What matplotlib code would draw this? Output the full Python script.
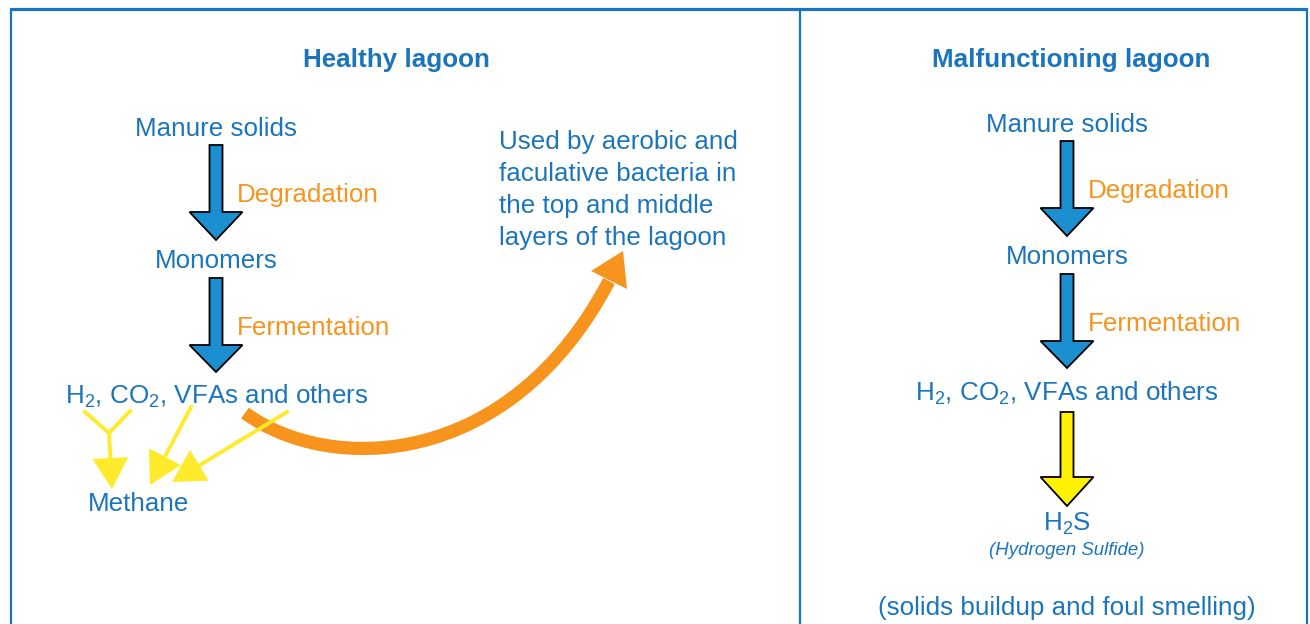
import matplotlib
matplotlib.use("Agg")
import matplotlib.pyplot as plt
from matplotlib.patches import Polygon
from matplotlib.path import Path
from matplotlib.patches import PathPatch
import numpy as np

plt.rcParams["font.family"] = ["Liberation Sans", "DejaVu Sans"]
plt.rcParams["mathtext.fontset"] = "custom"
plt.rcParams["mathtext.rm"] = "Liberation Sans"
plt.rcParams["mathtext.it"] = "Liberation Sans:italic"

BLUE_TEXT = "#1b75bc"
BLUE_FILL = "#1b8fd0"
ORANGE = "#f7941e"
YELLOW = "#fff200"
YELLOW_LINE = "#ffea2c"

# diagram content
titles = ["Healthy lagoon", "Malfunctioning lagoon"]
steps = ["Manure solids", "Monomers", "H$_2$, CO$_2$, VFAs and others"]
processes = ["Degradation", "Fermentation"]
healthy_product = "Methane"
healthy_reuse = ["Used by aerobic and", "faculative bacteria in",
                 "the top and middle", "layers of the lagoon"]
bad_product = "H$_2$S"
bad_product_name = "(Hydrogen Sulfide)"
bad_note = "(solids buildup and foul smelling)"

# layout (pixels, y downwards)
panel_x = [216, 1067]
panel_dy = [0, -4]
title_x = [396, 1071]
step_y = [136, 268, 404]
arrow_rows = [(145, 212, 240), (278, 345, 372)]
process_y = [202, 335]
FS = 18.7

fig = plt.figure(figsize=(13.1, 6.24), dpi=100)
ax = fig.add_axes([0, 0, 1, 1])
ax.set_xlim(0, 1310)
ax.set_ylim(624, 0)
ax.axis("off")


def block_arrow(cx, top, base, tip, fill, shaft=13, head=53):
    pts = [(cx - shaft / 2, top), (cx + shaft / 2, top), (cx + shaft / 2, base),
           (cx + head / 2, base), (cx, tip), (cx - head / 2, base),
           (cx - shaft / 2, base)]
    ax.add_patch(Polygon(pts, closed=True, facecolor=fill, edgecolor="black",
                         linewidth=1.3, joinstyle="miter", zorder=3))


def head(tail, tip, length, width, color, z=4):
    tail = np.array(tail, float)
    tip = np.array(tip, float)
    d = (tip - tail) / np.hypot(*(tip - tail))
    n = np.array([-d[1], d[0]])
    base = tip - d * length
    pts = [tip, base + n * width / 2, base - n * width / 2]
    ax.add_patch(Polygon(pts, closed=True, facecolor=color, edgecolor="none",
                         zorder=z))
    return base


# frame
ax.plot([10, 1307], [9, 9], color=BLUE_TEXT, lw=2.3, solid_capstyle="butt")
for x in [11, 800, 1307]:
    ax.plot([x, x], [8, 624], color=BLUE_TEXT, lw=1.6, solid_capstyle="butt")

# titles
for t, x in zip(titles, title_x):
    ax.text(x, 67, t, ha="center", va="baseline", fontsize=FS,
            fontweight="bold", color=BLUE_TEXT)

# flow of both panels
for cx, dy in zip(panel_x, panel_dy):
    for s, y in zip(steps[:2], step_y[:2]):
        ax.text(cx, y + dy, s, ha="center", va="baseline", fontsize=FS,
                color=BLUE_TEXT)
    for (top, base, tip), p, py in zip(arrow_rows, processes, process_y):
        block_arrow(cx, top + dy, base + dy, tip + dy, BLUE_FILL)
        ax.text(cx + 21, py + dy, p, ha="left", va="baseline", fontsize=FS,
                color=ORANGE)

ax.text(65, step_y[2], steps[2], ha="left", va="baseline", fontsize=FS,
        color=BLUE_TEXT)
ax.text(panel_x[1], step_y[2] - 3, steps[2], ha="center", va="baseline",
        fontsize=FS, color=BLUE_TEXT)

# healthy: yellow arrows to methane
lw_y = 2.8
ax.plot([85, 109, 130], [412, 433, 411], color=YELLOW_LINE, lw=lw_y,
        zorder=4)
b = head((109, 433), (112, 489), 31, 36, YELLOW_LINE)
ax.plot([109, b[0]], [433, b[1]], color=YELLOW_LINE, lw=lw_y, zorder=4)
for tail, tip in [((191, 407), (150, 485)), ((287, 412), (172, 482))]:
    b = head(tail, tip, 32, 36, YELLOW_LINE)
    ax.plot([tail[0], b[0]], [tail[1], b[1]], color=YELLOW_LINE, lw=lw_y,
            zorder=4)
ax.text(139, 511, healthy_product, ha="center", va="baseline", fontsize=FS,
        color=BLUE_TEXT)

# healthy: orange curved arrow
verts = [(245, 413), (330, 475), (510, 470), (609, 281)]
curve = Path(verts, [Path.MOVETO, Path.CURVE4, Path.CURVE4, Path.CURVE4])
ax.add_patch(PathPatch(curve, facecolor="none", edgecolor=ORANGE, lw=9.5,
                       capstyle="butt", zorder=2))
ax.add_patch(Polygon([(623, 251), (591, 271), (627, 289)], closed=True,
                     facecolor=ORANGE, edgecolor="none", zorder=2))
for i, line in enumerate(healthy_reuse):
    ax.text(499, 149 + 32 * i, line, ha="left", va="baseline", fontsize=FS,
            color=BLUE_TEXT)

# malfunctioning: yellow arrow to H2S
block_arrow(panel_x[1], 412, 477, 506, YELLOW)
ax.text(panel_x[1], 531, bad_product, ha="center", va="baseline",
        fontsize=FS, color=BLUE_TEXT)
ax.text(panel_x[1], 555, bad_product_name, ha="center", va="baseline",
        fontsize=13.4, style="italic", color=BLUE_TEXT)
ax.text(panel_x[1], 615, bad_note, ha="center", va="baseline", fontsize=FS,
        color=BLUE_TEXT)

fig.savefig("out.png", dpi=100, facecolor="white")
